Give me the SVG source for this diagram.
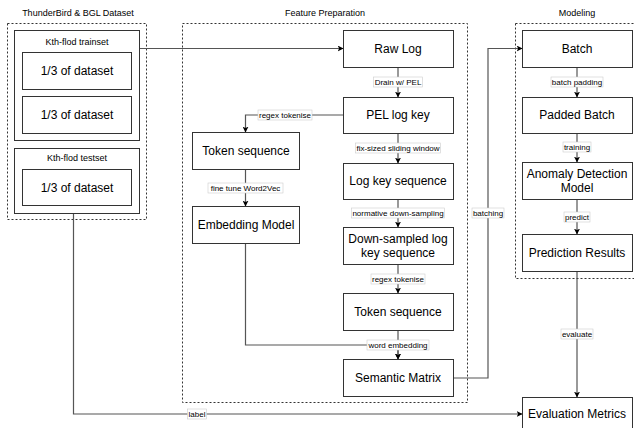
<svg xmlns="http://www.w3.org/2000/svg" width="634" height="428" viewBox="0 0 634 428">
<style>
text{font-family:"Liberation Sans",Arial,Helvetica,sans-serif;fill:#000}
.box{fill:#fff;stroke:#333;stroke-width:1}
.grp{fill:none;stroke:#333;stroke-width:1;stroke-dasharray:2 2}
.t{font-size:12px;text-anchor:middle;dominant-baseline:central}
.s{font-size:9px;text-anchor:middle;dominant-baseline:central}
.e{font-size:8px;text-anchor:middle;dominant-baseline:central}
.lb{fill:#fff;stroke:#ccc;stroke-width:0.6}
.c{fill:none;stroke:#555;stroke-width:1.2}
.a{marker-end:url(#arr)}
</style>
<defs>
<marker id="arr" viewBox="0 0 10 10" refX="9" refY="5" markerWidth="6" markerHeight="6" markerUnits="userSpaceOnUse" orient="auto">
<path d="M0,0 L10,5 L0,10 L2.5,5 z" fill="#000"/>
</marker>
</defs>

<g id="titles">
<text class="s" x="78" y="12.5">ThunderBird &amp; BGL Dataset</text>
<text class="s" x="325" y="12.5">Feature Preparation</text>
<text class="s" x="577" y="12.5">Modeling</text>
</g>

<g id="groups">
<rect class="grp" x="7.5" y="23.5" width="139" height="196"/>
<rect class="grp" x="182.5" y="23.5" width="285" height="379"/>
<rect class="grp" x="515.5" y="23.5" width="130" height="255"/>
</g>

<g id="connectors">
<path class="c a" d="M139,48.5 H343"/>
<path class="c a" d="M398,67 V97"/>
<path class="c a" d="M343,115 H245.5 V132"/>
<path class="c a" d="M398,133 V163"/>
<path class="c a" d="M245.5,169 V206"/>
<path class="c a" d="M398,199 V227"/>
<path class="c a" d="M398,264 V293"/>
<path class="c a" d="M398,330 V359"/>
<path class="c a" d="M245.5,243 V345 H398 V359"/>
<path class="c a" d="M453,378 H488 V48.5 H522"/>
<path class="c a" d="M577,67 V97"/>
<path class="c a" d="M577,133 V162"/>
<path class="c a" d="M577,199 V234"/>
<path class="c a" d="M577,271 V397"/>
<path class="c a" d="M73.5,213 V414 H522"/>
<g id="edge-labels">
<rect class="lb" x="373.5" y="77" width="49" height="10"/><text class="e" x="398" y="82">Drain w/ PEL</text>
<rect class="lb" x="258" y="110" width="54" height="10"/><text class="e" x="285" y="115">regex tokenise</text>
<rect class="lb" x="355.5" y="143" width="85" height="10"/><text class="e" x="398" y="148">fix-sized sliding window</text>
<rect class="lb" x="208" y="183" width="75" height="10"/><text class="e" x="245.5" y="188">fine tune Word2Vec</text>
<rect class="lb" x="351.5" y="208" width="93" height="10"/><text class="e" x="398" y="213">normative down-sampling</text>
<rect class="lb" x="371" y="274" width="54" height="10"/><text class="e" x="398" y="279">regex tokenise</text>
<rect class="lb" x="367" y="340" width="62" height="10"/><text class="e" x="398" y="345">word embedding</text>
<rect class="lb" x="472" y="208" width="32" height="10"/><text class="e" x="488" y="213">batching</text>
<rect class="lb" x="551" y="77" width="52" height="10"/><text class="e" x="577" y="82">batch padding</text>
<rect class="lb" x="563" y="142" width="28" height="10"/><text class="e" x="577" y="147">training</text>
<rect class="lb" x="564" y="212" width="26" height="10"/><text class="e" x="577" y="217">predict</text>
<rect class="lb" x="561" y="329" width="32" height="10"/><text class="e" x="577" y="334">evaluate</text>
<rect class="lb" x="187.5" y="409" width="19" height="10"/><text class="e" x="197" y="414">label</text>
</g>
</g>

<g id="trainset">
<rect class="box" x="14.5" y="30.5" width="125" height="110"/>
<text class="s" x="77" y="42">Kth-flod trainset</text>
</g>
<g id="train-part1">
<rect class="box" x="22.5" y="52.5" width="109" height="37"/>
<text class="t" x="77" y="71">1/3 of dataset</text>
</g>
<g id="train-part2">
<rect class="box" x="22.5" y="96.5" width="109" height="37"/>
<text class="t" x="77" y="115">1/3 of dataset</text>
</g>
<g id="testset">
<rect class="box" x="14.5" y="148.5" width="125" height="65"/>
<text class="s" x="77" y="157.5">Kth-flod testset</text>
</g>
<g id="test-part">
<rect class="box" x="22.5" y="169.5" width="109" height="36"/>
<text class="t" x="77" y="187.5">1/3 of dataset</text>
</g>

<g id="raw-log">
<rect class="box" x="343.5" y="30.5" width="110" height="37"/>
<text class="t" x="398" y="49">Raw Log</text>
</g>
<g id="pel-log-key">
<rect class="box" x="343.5" y="97.5" width="110" height="36"/>
<text class="t" x="398" y="115">PEL log key</text>
</g>
<g id="log-key-sequence">
<rect class="box" x="343.5" y="163.5" width="110" height="36"/>
<text class="t" x="398" y="181">Log key sequence</text>
</g>
<g id="down-sampled">
<rect class="box" x="343.5" y="227.5" width="110" height="37"/>
<text class="t" x="398" y="239">Down-sampled log</text>
<text class="t" x="398" y="253">key sequence</text>
</g>
<g id="token-sequence-right">
<rect class="box" x="343.5" y="293.5" width="110" height="37"/>
<text class="t" x="398" y="312">Token sequence</text>
</g>
<g id="semantic-matrix">
<rect class="box" x="343.5" y="359.5" width="110" height="37"/>
<text class="t" x="398" y="378">Semantic Matrix</text>
</g>
<g id="token-sequence-left">
<rect class="box" x="192.5" y="132.5" width="107" height="37"/>
<text class="t" x="246" y="151">Token sequence</text>
</g>
<g id="embedding-model">
<rect class="box" x="192.5" y="206.5" width="107" height="37"/>
<text class="t" x="246" y="225">Embedding Model</text>
</g>

<g id="batch">
<rect class="box" x="522.5" y="30.5" width="110" height="37"/>
<text class="t" x="577" y="49">Batch</text>
</g>
<g id="padded-batch">
<rect class="box" x="522.5" y="97.5" width="110" height="36"/>
<text class="t" x="577" y="115">Padded Batch</text>
</g>
<g id="anomaly-detection-model">
<rect class="box" x="522.5" y="162.5" width="110" height="37"/>
<text class="t" x="577" y="174">Anomaly Detection</text>
<text class="t" x="577" y="188">Model</text>
</g>
<g id="prediction-results">
<rect class="box" x="522.5" y="234.5" width="110" height="37"/>
<text class="t" x="577" y="253">Prediction Results</text>
</g>
<g id="evaluation-metrics">
<rect class="box" x="522.5" y="397.5" width="110" height="36"/>
<text class="t" x="577" y="414">Evaluation Metrics</text>
</g>
</svg>
